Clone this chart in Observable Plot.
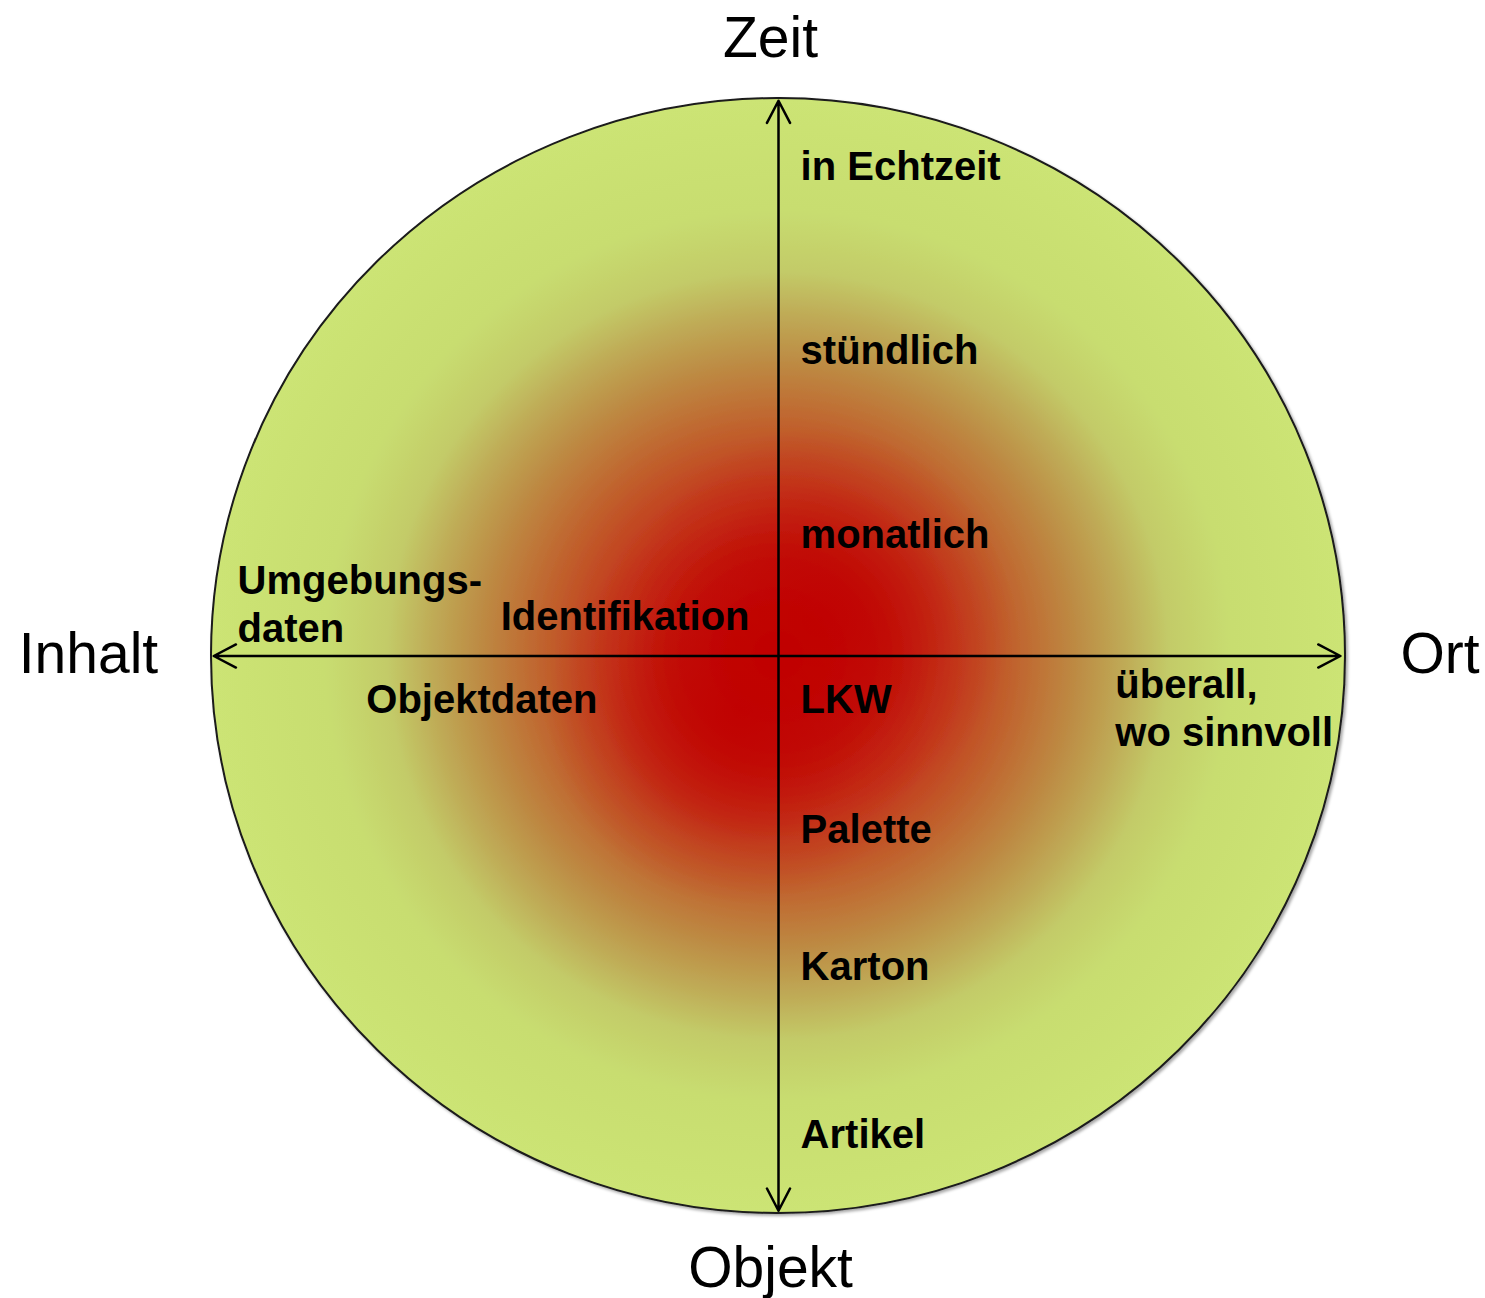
<!DOCTYPE html>
<html><head><meta charset="utf-8">
<script src="https://cdn.jsdelivr.net/npm/d3@7"></script>
<script src="https://cdn.jsdelivr.net/npm/@observablehq/plot@0.6"></script>
<style>body{margin:0;background:#fff}</style>
</head><body><div id="chart"></div>
<script>
// Axis names (outside the circle)
const axisNames = ["Zeit", "Objekt", "Inhalt", "Ort"];
const axisNameX = [-0.014, -0.014, -1.340, 1.097];
const axisNameY = [1.075, -1.131, -0.030, -0.030];
const axisNameAnchor = ["middle", "middle", "start", "start"];

// Zeit axis (upwards)
const zeitLabels = ["in Echtzeit", "stündlich", "monatlich"];
const zeitValues = [0.853, 0.523, 0.193];
// Objekt axis (downwards)
const objektLabels = ["LKW", "Palette", "Karton", "Artikel"];
const objektValues = [-0.103, -0.335, -0.582, -0.882];
// Inhalt axis (left)
const inhaltLabels = ["Umgebungs-\ndaten", "Identifikation", "Objektdaten"];
const inhaltX = [-0.954, -0.490, -0.727];
const inhaltY = [0.026, 0.046, -0.103];
// Ort axis (right)
const ortLabels = ["überall,\nwo sinnvoll"];
const ortX = [0.594];
const ortY = [-0.161];

// Arrow ends (from centre outward)
const arrowEndsX = [0, 0, -0.996, 0.991];
const arrowEndsY = [0.996, -0.995, 0, 0];

// Intense (red) hot spots of the disc
const hotX = [0.074, -0.067];
const hotY = [0.064, -0.101];

const font = "'Liberation Sans', Arial, Helvetica, sans-serif";

const inner = [
  ...zeitLabels.map((t, i) => ({t, x: 0.039, y: zeitValues[i]})),
  ...objektLabels.map((t, i) => ({t, x: 0.039, y: objektValues[i]})),
  ...inhaltLabels.map((t, i) => ({t, x: inhaltX[i], y: inhaltY[i]})),
  ...ortLabels.map((t, i) => ({t, x: ortX[i], y: ortY[i]}))
];
const outer = axisNames.map((t, i) => ({t, x: axisNameX[i], y: axisNameY[i], a: axisNameAnchor[i]}));
const arrows = arrowEndsX.map((x, i) => ({x1: 0, y1: 0, x2: x, y2: arrowEndsY[i]}));
const hot = hotX.map((x, i) => ({x, y: hotY[i]}));

const stops = [
  [0, "#c00000"], [0.18, "#c21a0c"], [0.30, "#c3381c"], [0.42, "#c0642e"],
  [0.53, "#bd8c44"], [0.61, "#bfaa56"], [0.69, "#c3cb68"], [0.80, "#c8dd70"], [1, "#cce474"]
];

const disc = (index, scales) => {
  const {x, y} = scales;
  const g = d3.create("svg:g");
  const defs = g.append("defs");
  const grad = defs.append("radialGradient").attr("id", "discGrad")
    .attr("cx", 0.5).attr("cy", 0.5).attr("r", 0.5);
  stops.forEach(([o, c]) => grad.append("stop").attr("offset", o).attr("stop-color", c));
  const hg = defs.append("radialGradient").attr("id", "hotGrad")
    .attr("cx", 0.5).attr("cy", 0.5).attr("r", 0.5);
  [[0, 0.9], [0.35, 0.55], [0.7, 0.15], [1, 0]].forEach(([o, a]) =>
    hg.append("stop").attr("offset", o).attr("stop-color", "#c00000").attr("stop-opacity", a));
  const f = defs.append("filter").attr("id", "shadow").attr("x", -0.05).attr("y", -0.05).attr("width", 1.1).attr("height", 1.1);
  f.append("feDropShadow").attr("dx", 2).attr("dy", 2).attr("stdDeviation", 1.5).attr("flood-color", "#000").attr("flood-opacity", 0.35);
  const cx = x(0), cy = y(0);
  const rx = x(1) - cx, ry = cy - y(1);
  g.append("ellipse")
    .attr("cx", cx).attr("cy", cy).attr("rx", rx).attr("ry", ry)
    .attr("fill", "url(#discGrad)")
    .attr("stroke", "#1a1a1a").attr("stroke-width", 2)
    .attr("filter", "url(#shadow)");
  hot.forEach(d => {
    g.append("ellipse")
      .attr("cx", x(d.x)).attr("cy", y(d.y))
      .attr("rx", 0.34 * rx).attr("ry", 0.34 * rx)
      .attr("fill", "url(#hotGrad)");
  });
  return g.node();
};

const textBase = {x: "x", y: "y", text: "t", lineAnchor: "bottom", fontFamily: font, fill: "black"};

const chart = Plot.plot({
  width: 1485,
  height: 1298,
  margin: 0,
  x: {domain: [-1, 1], range: [211, 1345], axis: null},
  y: {domain: [-1, 1], range: [1213, 98], axis: null},
  style: {background: "#fff"},
  marks: [
    disc,
    Plot.arrow(arrows, {x1: "x1", y1: "y1", x2: "x2", y2: "y2", stroke: "black", strokeWidth: 2.5, headLength: 15, headAngle: 55}),
    Plot.text(inner, {...textBase, textAnchor: "start", lineHeight: 1.2, fontSize: 40, fontWeight: "bold"}),
    Plot.text(outer.filter(d => d.a === "middle"), {...textBase, textAnchor: "middle", fontSize: 57}),
    Plot.text(outer.filter(d => d.a === "start"), {...textBase, textAnchor: "start", fontSize: 57})
  ]
});
document.getElementById("chart").appendChild(chart);
</script>
</body></html>
